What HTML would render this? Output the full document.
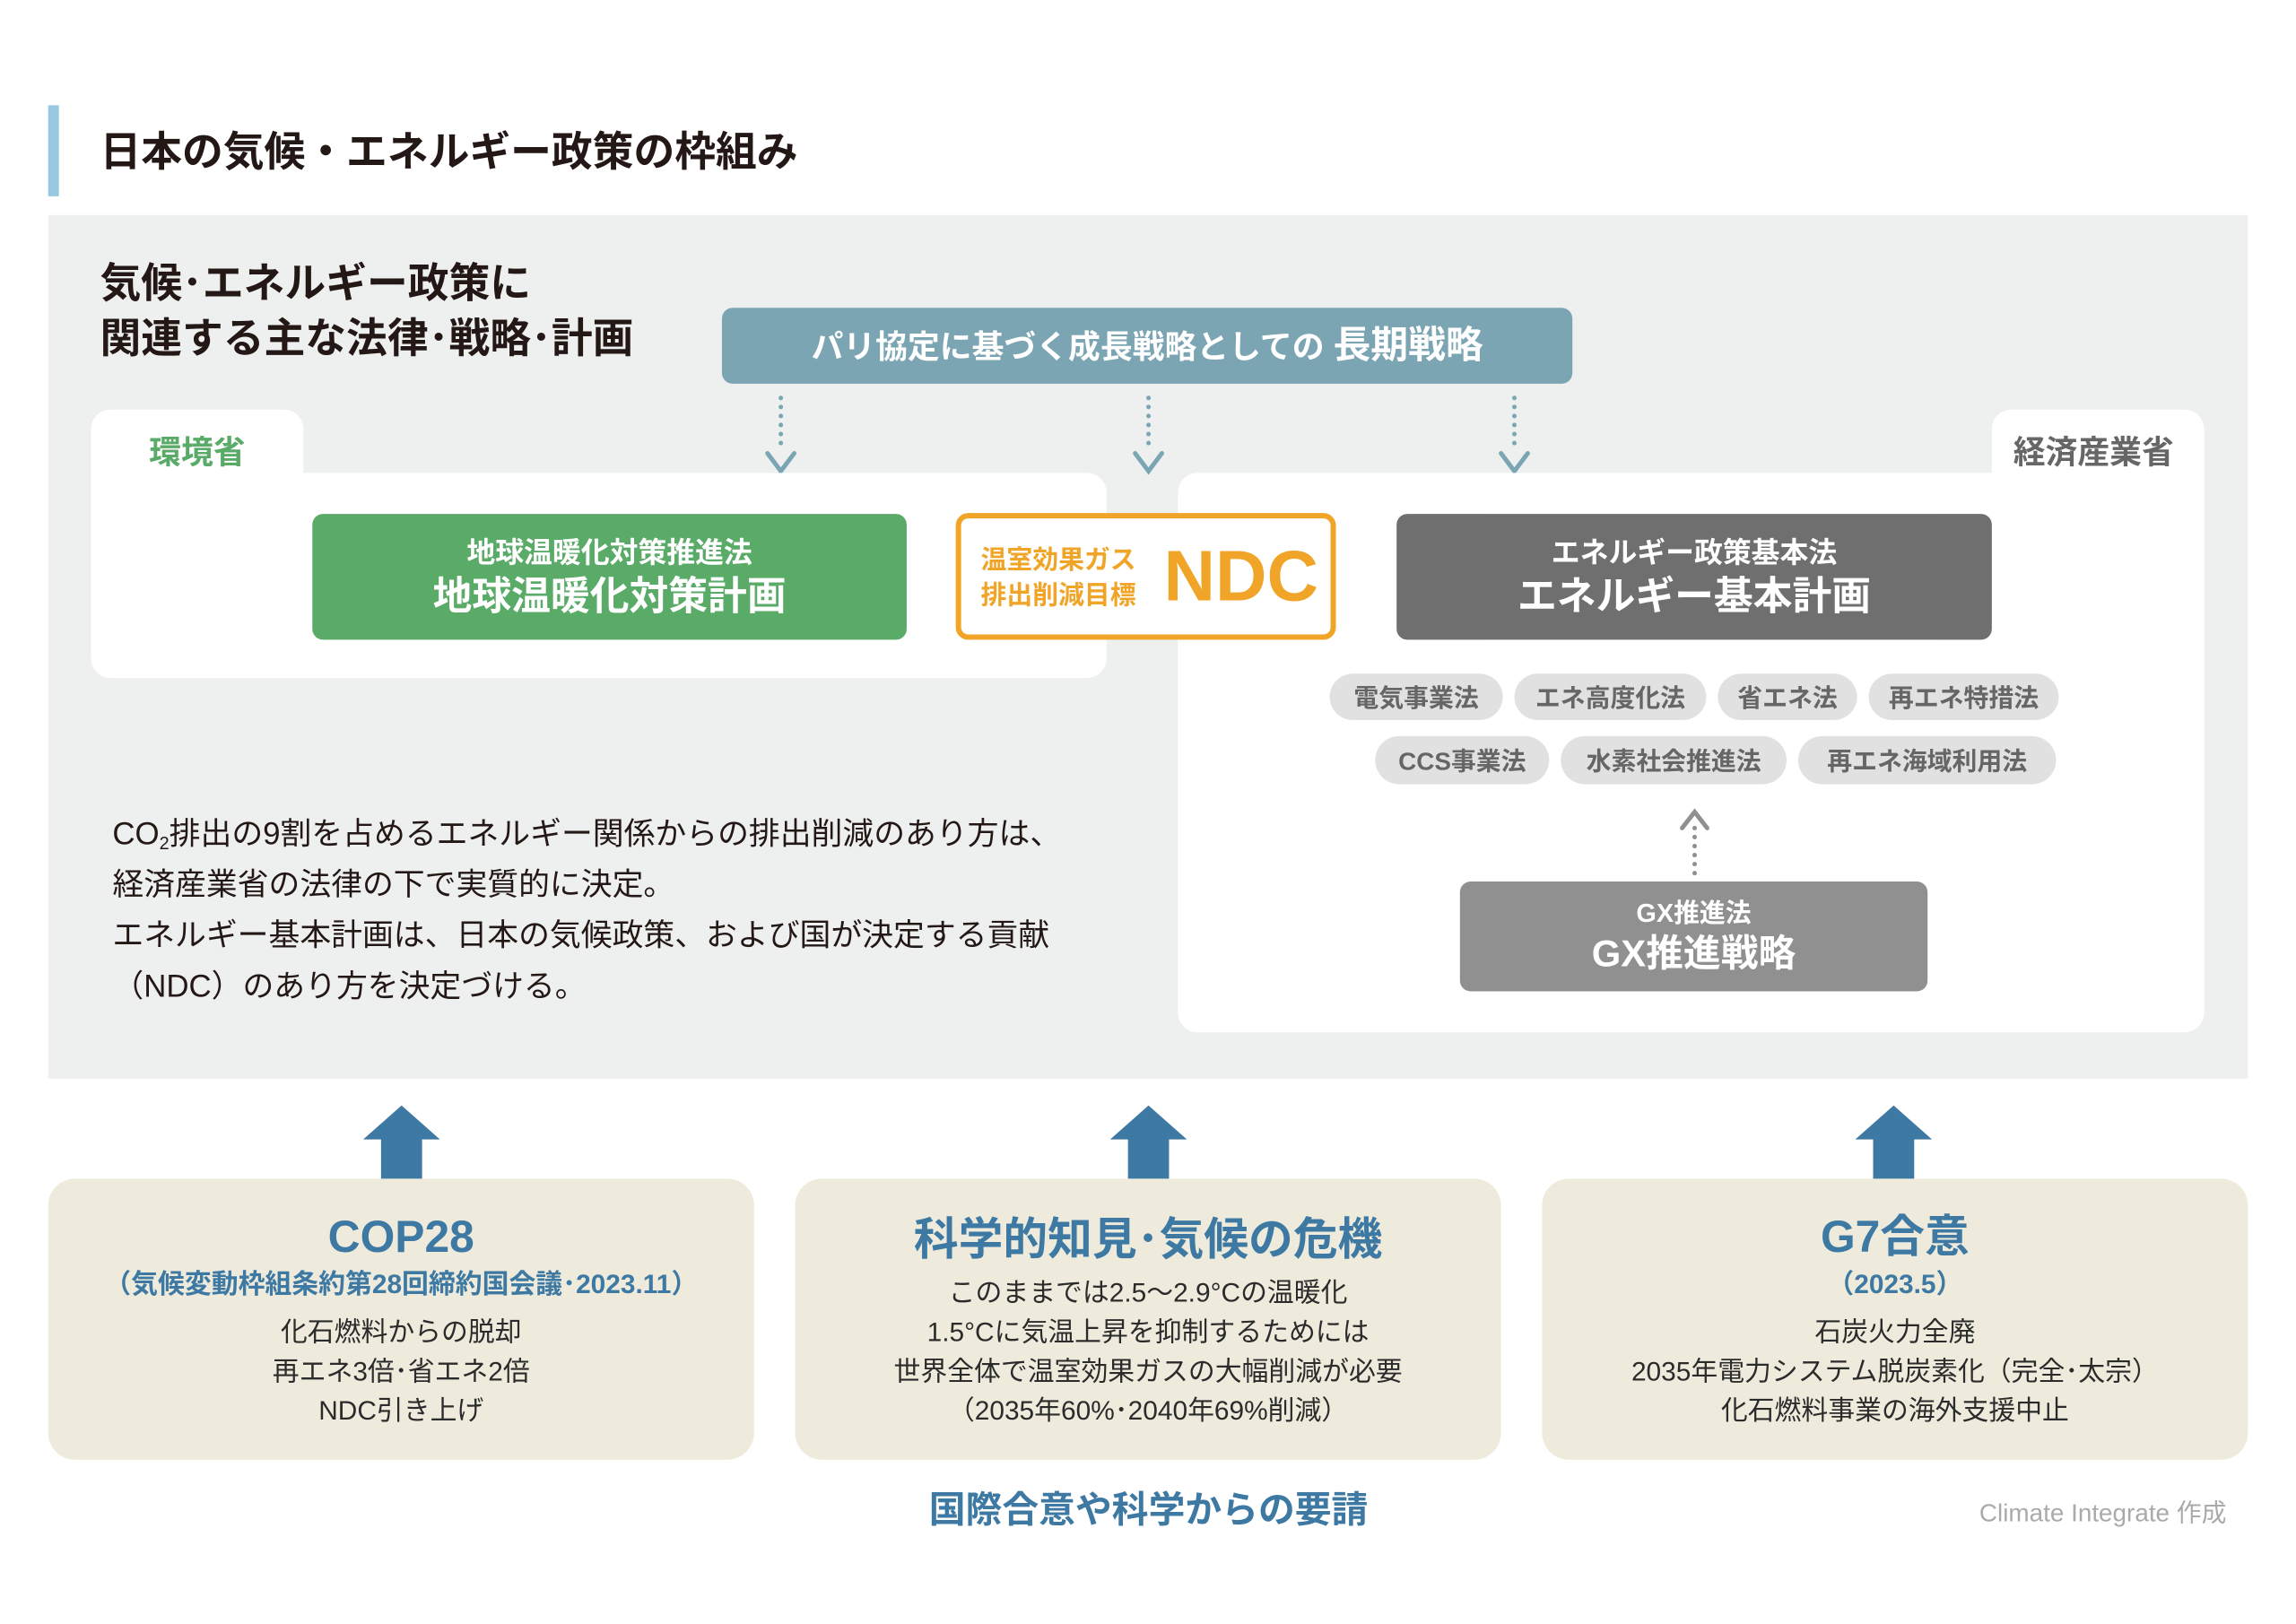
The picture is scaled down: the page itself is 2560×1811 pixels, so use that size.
<!DOCTYPE html>
<html><head><meta charset="utf-8"><style>
*{margin:0;padding:0;box-sizing:border-box}
body{width:2560px;height:1811px;background:#fff;position:relative;overflow:hidden;font-family:"Liberation Sans","Noto Sans CJK JP",sans-serif}
#w{position:absolute;left:0;top:0;width:2573px;height:1820px;transform:scale(0.995);transform-origin:0 0}
.a{position:absolute}
.c{position:absolute;display:flex;flex-direction:column;align-items:center;justify-content:center;text-align:center;white-space:nowrap}
.b{font-weight:bold}
.pill{position:absolute;background:#e1e1e1;border-radius:30px;color:#666;font-size:28px;font-weight:bold;display:flex;align-items:center;justify-content:center;white-space:nowrap}
.bt{color:#2b2b2b;font-size:30px;line-height:44px}
sub{font-size:20px;line-height:0;vertical-align:-6px}
</style></head><body><div id="w">
<div class="a" style="left:54px;top:118px;width:12px;height:102px;background:#98c8e0"></div>
<div class="a b" style="left:112px;top:140px;font-size:46px;color:#231815;line-height:60px">日本の気候・エネルギー政策の枠組み</div>
<div class="a" style="left:54px;top:241px;width:2465px;height:968px;background:#eef0ef"></div>
<div class="a b" style="left:112px;top:286px;font-size:46px;color:#231815;line-height:62px">気候･エネルギー政策に<br>関連する主な法律･戦略･計画</div>
<div class="c" style="left:809px;top:345px;width:953px;height:85px;background:#7ba5b3;border-radius:12px;color:#fff;font-weight:bold;font-size:36px;flex-direction:row;align-items:baseline;padding-top:8px">パリ協定に基づく成長戦略としての&nbsp;<span style="font-size:42px">長期戦略</span></div>
<svg class="a" style="left:0;top:0" width="2560" height="1811">
<g stroke="#7ba5b3" stroke-width="5" fill="none" stroke-linecap="round">
<line x1="875" y1="446" x2="875" y2="505" stroke-dasharray="0.1 10"/>
<line x1="1287" y1="446" x2="1287" y2="505" stroke-dasharray="0.1 10"/>
<line x1="1697" y1="446" x2="1697" y2="505" stroke-dasharray="0.1 10"/>
<polyline points="860,508 875,528 890,508"/><polyline points="1272,508 1287,528 1302,508"/><polyline points="1682,508 1697,528 1712,508"/>
</g>
</svg>
<div class="a" style="left:102px;top:459px;width:238px;height:120px;background:#fff;border-radius:22px"></div>
<div class="a" style="left:102px;top:530px;width:1138px;height:230px;background:#fff;border-radius:22px"></div>
<div class="a b" style="left:167px;top:478px;font-size:36px;color:#5aaa68">環境省</div>
<div class="a" style="left:2232px;top:459px;width:238px;height:120px;background:#fff;border-radius:22px"></div>
<div class="a" style="left:1320px;top:530px;width:1150px;height:627px;background:#fff;border-radius:22px"></div>
<div class="a b" style="left:2256px;top:478px;font-size:36px;color:#666">経済産業省</div>
<div class="c b" style="left:350px;top:576px;width:666px;height:141px;background:#5aaa68;border-radius:12px;color:#fff">
<div style="font-size:32px;line-height:44px">地球温暖化対策推進法</div><div style="font-size:44px;line-height:56px">地球温暖化対策計画</div></div>
<div class="a" style="left:1071px;top:575px;width:426px;height:142px;border:6px solid #f0a528;border-radius:14px;background:#fff"></div>
<div class="a b" style="left:1099px;top:608px;font-size:29px;line-height:40px;color:#f0a528">温室効果ガス<br>排出削減目標</div>
<div class="a b" style="left:1304px;top:598px;font-size:80px;line-height:96px;color:#f0a528">NDC</div>
<div class="c b" style="left:1565px;top:576px;width:667px;height:141px;background:#6f6f6f;border-radius:12px;color:#fff">
<div style="font-size:32px;line-height:44px">エネルギー政策基本法</div><div style="font-size:44px;line-height:56px">エネルギー基本計画</div></div>
<div class="pill" style="left:1490px;top:755px;width:194px;height:52px">電気事業法</div>
<div class="pill" style="left:1697px;top:755px;width:215px;height:52px">エネ高度化法</div>
<div class="pill" style="left:1925px;top:755px;width:156px;height:52px">省エネ法</div>
<div class="pill" style="left:2094px;top:755px;width:213px;height:52px">再エネ特措法</div>
<div class="pill" style="left:1541px;top:825px;width:195px;height:54px">CCS事業法</div>
<div class="pill" style="left:1749px;top:825px;width:253px;height:54px">水素社会推進法</div>
<div class="pill" style="left:2015px;top:825px;width:289px;height:54px">再エネ海域利用法</div>
<svg class="a" style="left:1870px;top:900px" width="60" height="90"><g stroke="#8f908f" stroke-width="5" fill="none" stroke-linecap="round">
<line x1="29" y1="28" x2="29" y2="86" stroke-dasharray="0.1 10"/><polyline points="15,28 29,10 43,28"/></g></svg>
<div class="c b" style="left:1636px;top:988px;width:524px;height:123px;background:#8f908f;border-radius:12px;color:#fff">
<div style="font-size:29px;line-height:38px">GX推進法</div><div style="font-size:42px;line-height:52px">GX推進戦略</div></div>
<div class="a" style="left:126px;top:906px;font-size:35px;line-height:57px;color:#231815">CO<sub>2</sub>排出の9割を占めるエネルギー関係からの排出削減のあり方は、<br>経済産業省の法律の下で実質的に決定。<br>エネルギー基本計画は、日本の気候政策、および国が決定する貢献<br>（NDC）のあり方を決定づける。</div>
<svg class="a" style="left:0;top:1230px" width="2560" height="95"><g fill="#3d79a2">
<polygon points="407,47 450,9 493,47 473,47 473,92 427,92 427,47"/>
<polygon points="1244,47 1287,9 1330,47 1310,47 1310,92 1264,92 1264,47"/>
<polygon points="2079,47 2122,9 2165,47 2145,47 2145,92 2099,92 2099,47"/></g></svg>
<div class="c" style="left:54px;top:1321px;width:791px;height:315px;background:#eeebdd;border-radius:30px">
<div class="b" style="font-size:50px;line-height:64px;color:#3d79a2">COP28</div>
<div class="b" style="font-size:30px;line-height:44px;color:#3d79a2;margin-bottom:10px">（気候変動枠組条約第28回締約国会議･2023.11）</div>
<div class="bt">化石燃料からの脱却<br>再エネ3倍･省エネ2倍<br>NDC引き上げ</div></div>
<div class="c" style="left:891px;top:1321px;width:791px;height:315px;background:#eeebdd;border-radius:30px">
<div class="b" style="font-size:50px;line-height:70px;color:#3d79a2;margin-bottom:4px">科学的知見･気候の危機</div>
<div class="bt">このままでは2.5〜2.9°Cの温暖化<br>1.5°Cに気温上昇を抑制するためには<br>世界全体で温室効果ガスの大幅削減が必要<br>（2035年60%･2040年69%削減）</div></div>
<div class="c" style="left:1728px;top:1321px;width:791px;height:315px;background:#eeebdd;border-radius:30px">
<div class="b" style="font-size:50px;line-height:64px;color:#3d79a2">G7合意</div>
<div class="b" style="font-size:30px;line-height:44px;color:#3d79a2;margin-bottom:10px">（2023.5）</div>
<div class="bt">石炭火力全廃<br>2035年電力システム脱炭素化（完全･太宗）<br>化石燃料事業の海外支援中止</div></div>
<div class="c b" style="left:887px;top:1660px;width:800px;height:56px;font-size:41px;color:#3d79a2">国際合意や科学からの要請</div>
<div class="a" style="left:2218px;top:1674px;font-size:28px;color:#aaa;white-space:nowrap">Climate Integrate 作成</div>
</div></body></html>
